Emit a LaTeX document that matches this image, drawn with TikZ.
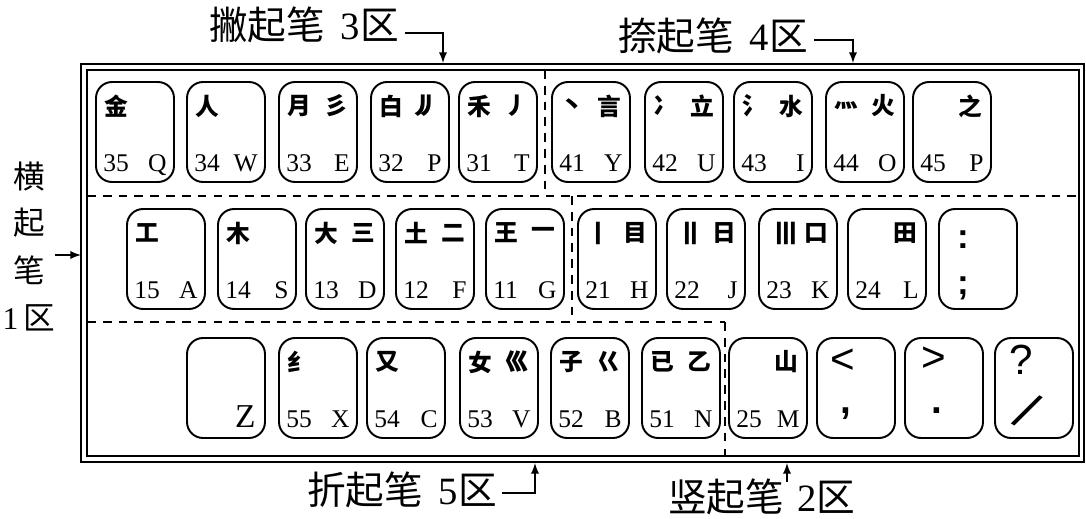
\documentclass[tikz,border=0pt]{standalone}
\usepackage{fontspec}
\setmainfont{Liberation Serif}
\newfontfamily\cjk{Noto Sans CJK SC}
\newfontfamily\symfont{Liberation Sans}

\begin{document}
\begin{tikzpicture}[x=0.02cm,y=-0.02cm,>=latex,
    keycap/.style={draw,line width=1.1pt,rounded corners=0.32cm,
        minimum width=1.56cm,minimum height=2cm,inner sep=0pt},
    glyph/.style={inner sep=0pt,font=\cjk\bfseries\fontsize{13.5}{14}\selectfont},
    code/.style={inner sep=0pt,font=\fontsize{14.5}{14.5}\selectfont},
    tag/.style={inner sep=0pt,font=\fontsize{22}{22}\selectfont},
    zone/.style={line width=0.8pt,dash pattern=on 5pt off 4pt},
    frame/.style={line width=1pt}]
\useasboundingbox (0,0) rectangle (1086,518);

% double frame
\draw[frame] (81,64) rectangle (1084,462);
\draw[frame] (87,70) rectangle (1079,456);

% zone borders
\draw[zone] (545,70) -- (545,196);
\draw[zone] (87,196) -- (1079,196);
\draw[zone] (572,196) -- (572,322);
\draw[zone] (87,322) -- (725,322);
\draw[zone] (725,322) -- (725,456);

% keys
\foreach \n/\x/\y/\a/\b/\num/\ltr in {
    35/135/132/金//35/Q, 34/226/132/人//34/W, 33/318/132/月/彡/33/E,
    32/410/132/白/{丿\kern-.75em丿}/32/P, 31/498/132/禾/丿/31/T,
    41/591/132/丶/言/41/Y, 42/684/132/冫/立/42/U, 43/773/132/氵/水/43/I,
    44/865/132/灬/火/44/O, 45/952/132//之/45/P,
    15/166/259/工//15/A, 14/257/259/木//14/S, 13/345/259/大/三/13/D,
    12/435/259/土/二/12/F, 11/525/259/王/一/11/G,
    21/617/259/丨/目/21/H, 22/706/259/{丨\kern-.7em丨}/日/22/J,
    23/798/259/{丨\kern-.7em丨\kern-.7em丨}/口/23/K, 24/887/259//田/24/L,
    55/318/388/纟//55/X, 54/406/388/又//54/C, 53/499/388/女/巛/53/V,
    52/590/388/子/巜/52/B, 51/681/388/已/乙/51/N, 25/768/388//山/25/M}
{
  \node[keycap] (k\n) at (\x,\y) {};
  \node[glyph,anchor=west] (a\n) at ([shift={(9,25)}]k\n.north west) {\a};
  \node[glyph,anchor=east] (b\n) at ([shift={(-9,25)}]k\n.north east) {\b};
  \node[code,anchor=base west] (n\n) at ([shift={(8,-11)}]k\n.south west) {\num};
  \node[code,anchor=base east] (l\n) at ([shift={(-8,-11)}]k\n.south east) {\ltr};
}

% keys without codes
\node[keycap] (kZ) at (226,388) {};
\node[code,anchor=base east,font=\fontsize{19}{19}\selectfont] (lZ)
    at ([shift={(-10,-11)}]kZ.south east) {Z};
\node[keycap] (kL) at (978,259) {};
\node[inner sep=0pt,font=\symfont\bfseries\fontsize{20}{20}\selectfont] (uL) at (963,240) {:};
\node[inner sep=0pt,font=\symfont\bfseries\fontsize{20}{20}\selectfont] (dL) at (963,288) {;};
\node[keycap] (kM1) at (856,388) {};
\node[inner sep=0pt,font=\symfont\fontsize{24}{24}\selectfont] (uM1) at (843,361) {<};
\node[inner sep=0pt,font=\symfont\bfseries\fontsize{22}{22}\selectfont] (dM1) at (846,414) {,};
\node[keycap] (kM2) at (944,388) {};
\node[inner sep=0pt,font=\symfont\fontsize{24}{24}\selectfont] (uM2) at (934,359) {>};
\node[inner sep=0pt,font=\symfont\bfseries\fontsize{22}{22}\selectfont] (dM2) at (937,411) {.};
\node[keycap] (kM3) at (1034,388) {};
\node[inner sep=0pt,font=\symfont\fontsize{24}{24}\selectfont] (uM3) at (1021,360) {?};
\node[inner sep=0pt,rotate=-30,font=\symfont\fontsize{30}{30}\selectfont] (dM3) at (1027,411) {/};

% zone labels
\node[tag] (t3) at (304,25) {{\cjk 撇起笔}\hspace{.4em}3{\cjk 区}};
\coordinate (c3) at (443,63);
\draw[line width=1.1pt,->] ([shift={(6,8)}]t3.east) -| (c3);

\node[tag] (t4) at (713,36) {{\cjk 捺起笔}\hspace{.4em}4{\cjk 区}};
\coordinate (c4) at (853,63);
\draw[line width=1.1pt,->] ([shift={(6,4)}]t4.east) -| (c4);

\node[tag,font=\fontsize{18}{18}\selectfont] (h1) at (29,177) {\cjk 横};
\node[tag,font=\fontsize{18}{18}\selectfont] (h2) at (29,223) {\cjk 起};
\node[tag,font=\fontsize{18}{18}\selectfont] (h3) at (29,270) {\cjk 笔};
\node[tag,font=\fontsize{18}{18}\selectfont] (h4) at (29,318) {1\,{\cjk 区}};
\coordinate (s1) at (55,255);
\coordinate (c1) at (81,255);
\draw[line width=1.1pt,->] (s1) -- (c1);

\node[tag] (t5) at (402,490) {{\cjk 折起笔}\hspace{.4em}5{\cjk 区}};
\coordinate (c5) at (535,463);
\draw[line width=1.1pt,->] ([shift={(5,3)}]t5.east) -| (c5);

\node[tag] (t2a) at (726,497) {\cjk 竖起笔};
\node[tag,anchor=west] (t2b) at (797,497) {2{\cjk 区}};
\coordinate (s2) at (787,482);
\coordinate (c2) at (787,463);
\draw[line width=1.1pt,->] (s2) -- (c2);
\end{tikzpicture}
\end{document}
